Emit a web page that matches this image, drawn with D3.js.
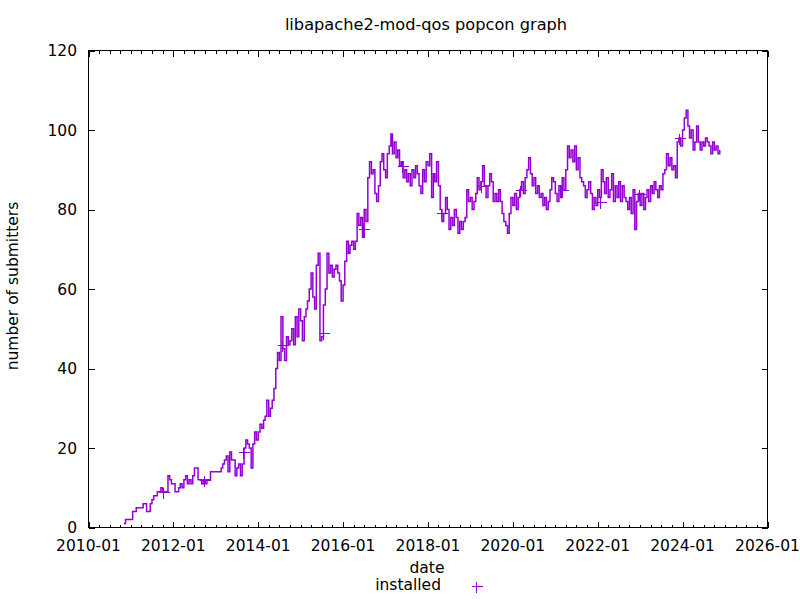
<!DOCTYPE html>
<html lang="en">
<head>
  <meta charset="UTF-8" />
  <title>libapache2-mod-qos popcon graph</title>
  <script src="https://d3js.org/d3.v7.min.js"></script>
  <style>
    html, body {
      margin: 0;
      background: #fff;
    }
    svg text {
      font-family: "DejaVu Sans", sans-serif;
      font-size: 15.5px;
      fill: #000;
    }
    .border, .tick {
      stroke: #000;
      stroke-width: 1px;
      fill: none;
      shape-rendering: crispEdges;
    }
    .series {
      stroke: #9400d3;
      stroke-width: 1.5px;
      fill: none;
    }
    .mark {
      stroke: #9400d3;
      stroke-width: 1px;
      fill: none;
      shape-rendering: crispEdges;
    }
  </style>
</head>
<body>
  <svg id="chart" width="800" height="600"></svg>

  <script>
    const seriesStart = [2010, 10];   // year, month index (Nov 2010)
    const values2010 = [1, 2, 2, 2];
    const values2011 = [2, 4, 4, 5, 5, 5, 5, 6, 6, 4, 4, 6, 7, 8, 8, 9, 9, 10, 9, 9, 9, 13, 12, 11];
    const values2012 = [11, 9, 9, 10, 11, 10, 12, 13, 11, 12, 11, 13, 15, 15, 12, 12, 11, 12, 11, 12, 12, 14, 14, 14];
    const values2013 = [14, 14, 14, 15, 16, 17, 18, 14, 19, 17, 17, 13, 15, 16, 13, 16, 20, 22, 21, 20, 15, 21, 24, 22];
    const values2014 = [24, 26, 25, 27, 28, 32, 28, 30, 32, 35, 40, 44, 42, 53, 45, 42, 48, 46, 47, 50, 46, 53, 48, 55];
    const values2015 = [52, 47, 53, 55, 57, 60, 64, 58, 55, 66, 69, 47, 48, 56, 60, 69, 64, 66, 63, 65, 66, 64, 62, 57];
    const values2016 = [61, 67, 72, 69, 71, 72, 70, 72, 79, 76, 78, 73, 80, 77, 88, 92, 89, 90, 84, 82, 86, 92, 94, 90];
    const values2017 = [88, 94, 96, 99, 94, 97, 93, 95, 91, 92, 88, 90, 87, 89, 86, 90, 88, 91, 89, 86, 84, 90, 87, 92];
    const values2018 = [91, 94, 83, 89, 87, 92, 86, 80, 77, 79, 83, 80, 75, 78, 76, 80, 78, 74, 77, 75, 77, 78, 85, 82];
    const values2019 = [83, 80, 82, 84, 88, 85, 87, 91, 86, 83, 86, 89, 87, 82, 84, 82, 85, 82, 79, 77, 76, 74, 79, 83];
    const values2020 = [81, 84, 80, 83, 85, 87, 84, 88, 90, 93, 89, 86, 88, 84, 86, 83, 84, 81, 83, 80, 82, 85, 88, 87];
    const values2021 = [84, 82, 86, 83, 88, 85, 90, 96, 93, 95, 92, 96, 90, 93, 88, 87, 86, 83, 85, 87, 84, 80, 83, 81];
    const values2022 = [85, 83, 90, 87, 84, 88, 83, 85, 89, 82, 86, 83, 87, 82, 86, 83, 82, 80, 83, 79, 85, 75, 82, 84];
    const values2023 = [81, 84, 80, 83, 85, 82, 86, 84, 87, 85, 83, 86, 85, 89, 90, 94, 91, 93, 90, 91, 88, 97, 98, 96];
    const values2024 = [100, 103, 105, 101, 98, 100, 95, 97, 101, 97, 95, 97, 96, 98, 97, 96, 94, 97, 95, 96, 94, 95];

    // single days surrounded by missing data, shown as lone "+" marks
    const isolated = [
      ["2011-10-06", 9], ["2012-09-25", 12], ["2013-08-19", 19], ["2014-07-22", 46],
      ["2015-07-13", 49], ["2016-06-22", 75], ["2017-05-22", 91], ["2018-04-22", 79],
      ["2019-04-06", 86], ["2020-03-07", 85], ["2021-03-01", 85], ["2022-01-21", 82],
      ["2022-12-25", 84], ["2023-11-28", 98]
    ];

    const xTickYears = [2010, 2012, 2014, 2016, 2018, 2020, 2022, 2024, 2026];
    const yTicks = [0, 20, 40, 60, 80, 100, 120];

    const allValues = [].concat(values2010, values2011, values2012, values2013, values2014,
      values2015, values2016, values2017, values2018, values2019, values2020, values2021,
      values2022, values2023, values2024);

    const series = allValues.map((v, i) => ({
      date: new Date(seriesStart[0], seriesStart[1] + Math.floor(i / 2), i % 2 ? 16 : 1),
      value: v
    }));
    const parse = d3.timeParse('%Y-%m-%d');
    const lone = isolated.map(d => ({date: parse(d[0]), value: d[1]}));

    const L = 88.5, R = 767.5, T = 50.5, B = 527.5;
    const svg = d3.select('#chart');

    const x = d3.scaleTime()
      .domain([new Date(2010, 0, 1), new Date(2026, 0, 1)])
      .range([L, R]);
    const y = d3.scaleLinear().domain([0, 120]).range([B, T]);

    // ticks (mirrored, pointing inward)
    const ticks = svg.append('g');
    const minorDates = d3.timeMonth.every(3).range(new Date(2010, 0, 1), new Date(2026, 0, 2));
    minorDates.forEach(d => {
      const major = d.getMonth() === 0 && d.getFullYear() % 2 === 0;
      const len = major ? 6 : 3;
      const px = Math.round(x(d)) + 0.5;
      ticks.append('line').attr('class', 'tick')
        .attr('x1', px).attr('x2', px).attr('y1', B).attr('y2', B - len);
      ticks.append('line').attr('class', 'tick')
        .attr('x1', px).attr('x2', px).attr('y1', T).attr('y2', T + len);
    });
    yTicks.forEach(v => {
      const py = Math.round(y(v)) + 0.5;
      ticks.append('line').attr('class', 'tick')
        .attr('x1', L).attr('x2', L + 6).attr('y1', py).attr('y2', py);
      ticks.append('line').attr('class', 'tick')
        .attr('x1', R).attr('x2', R - 6).attr('y1', py).attr('y2', py);
    });

    // tick labels
    svg.append('g').selectAll('text')
      .data(yTicks).enter().append('text')
        .attr('x', 77).attr('y', d => y(d) + 5.5)
        .attr('text-anchor', 'end')
        .text(d => d);
    const fmt = d3.timeFormat('%Y-%m');
    svg.append('g').selectAll('text')
      .data(xTickYears).enter().append('text')
        .attr('x', d => x(new Date(d, 0, 1)))
        .attr('y', 551)
        .attr('text-anchor', 'middle')
        .text(d => fmt(new Date(d, 0, 1)));

    // data
    const line = d3.line()
      .x(d => x(d.date))
      .y(d => y(d.value))
      .curve(d3.curveStepAfter);
    svg.append('path').datum(series).attr('class', 'series').attr('d', line);

    const plus = (g, cx, cy) => {
      cx = Math.round(cx) + 0.5; cy = Math.round(cy) + 0.5;
      g.append('path').attr('class', 'mark')
        .attr('d', `M${cx - 5},${cy}H${cx + 6}M${cx},${cy - 5}V${cy + 6}`);
    };
    const marks = svg.append('g');
    lone.forEach(d => plus(marks, x(d.date), y(d.value)));

    // border
    svg.append('rect').attr('class', 'border')
      .attr('x', L).attr('y', T).attr('width', R - L).attr('height', B - T);

    // titles
    svg.append('text').attr('x', 426).attr('y', 30).attr('text-anchor', 'middle')
      .style('font-size', '16.2px')
      .text('libapache2-mod-qos popcon graph');
    svg.append('text')
      .attr('transform', 'translate(18,286) rotate(-90)')
      .attr('text-anchor', 'middle')
      .text('number of submitters');
    svg.append('text').attr('x', 427).attr('y', 573).attr('text-anchor', 'middle').text('date');

    // legend
    svg.append('text').attr('x', 441).attr('y', 590).attr('text-anchor', 'end').text('installed');
    plus(svg.append('g'), 476, 586);
  </script>
</body>
</html>
